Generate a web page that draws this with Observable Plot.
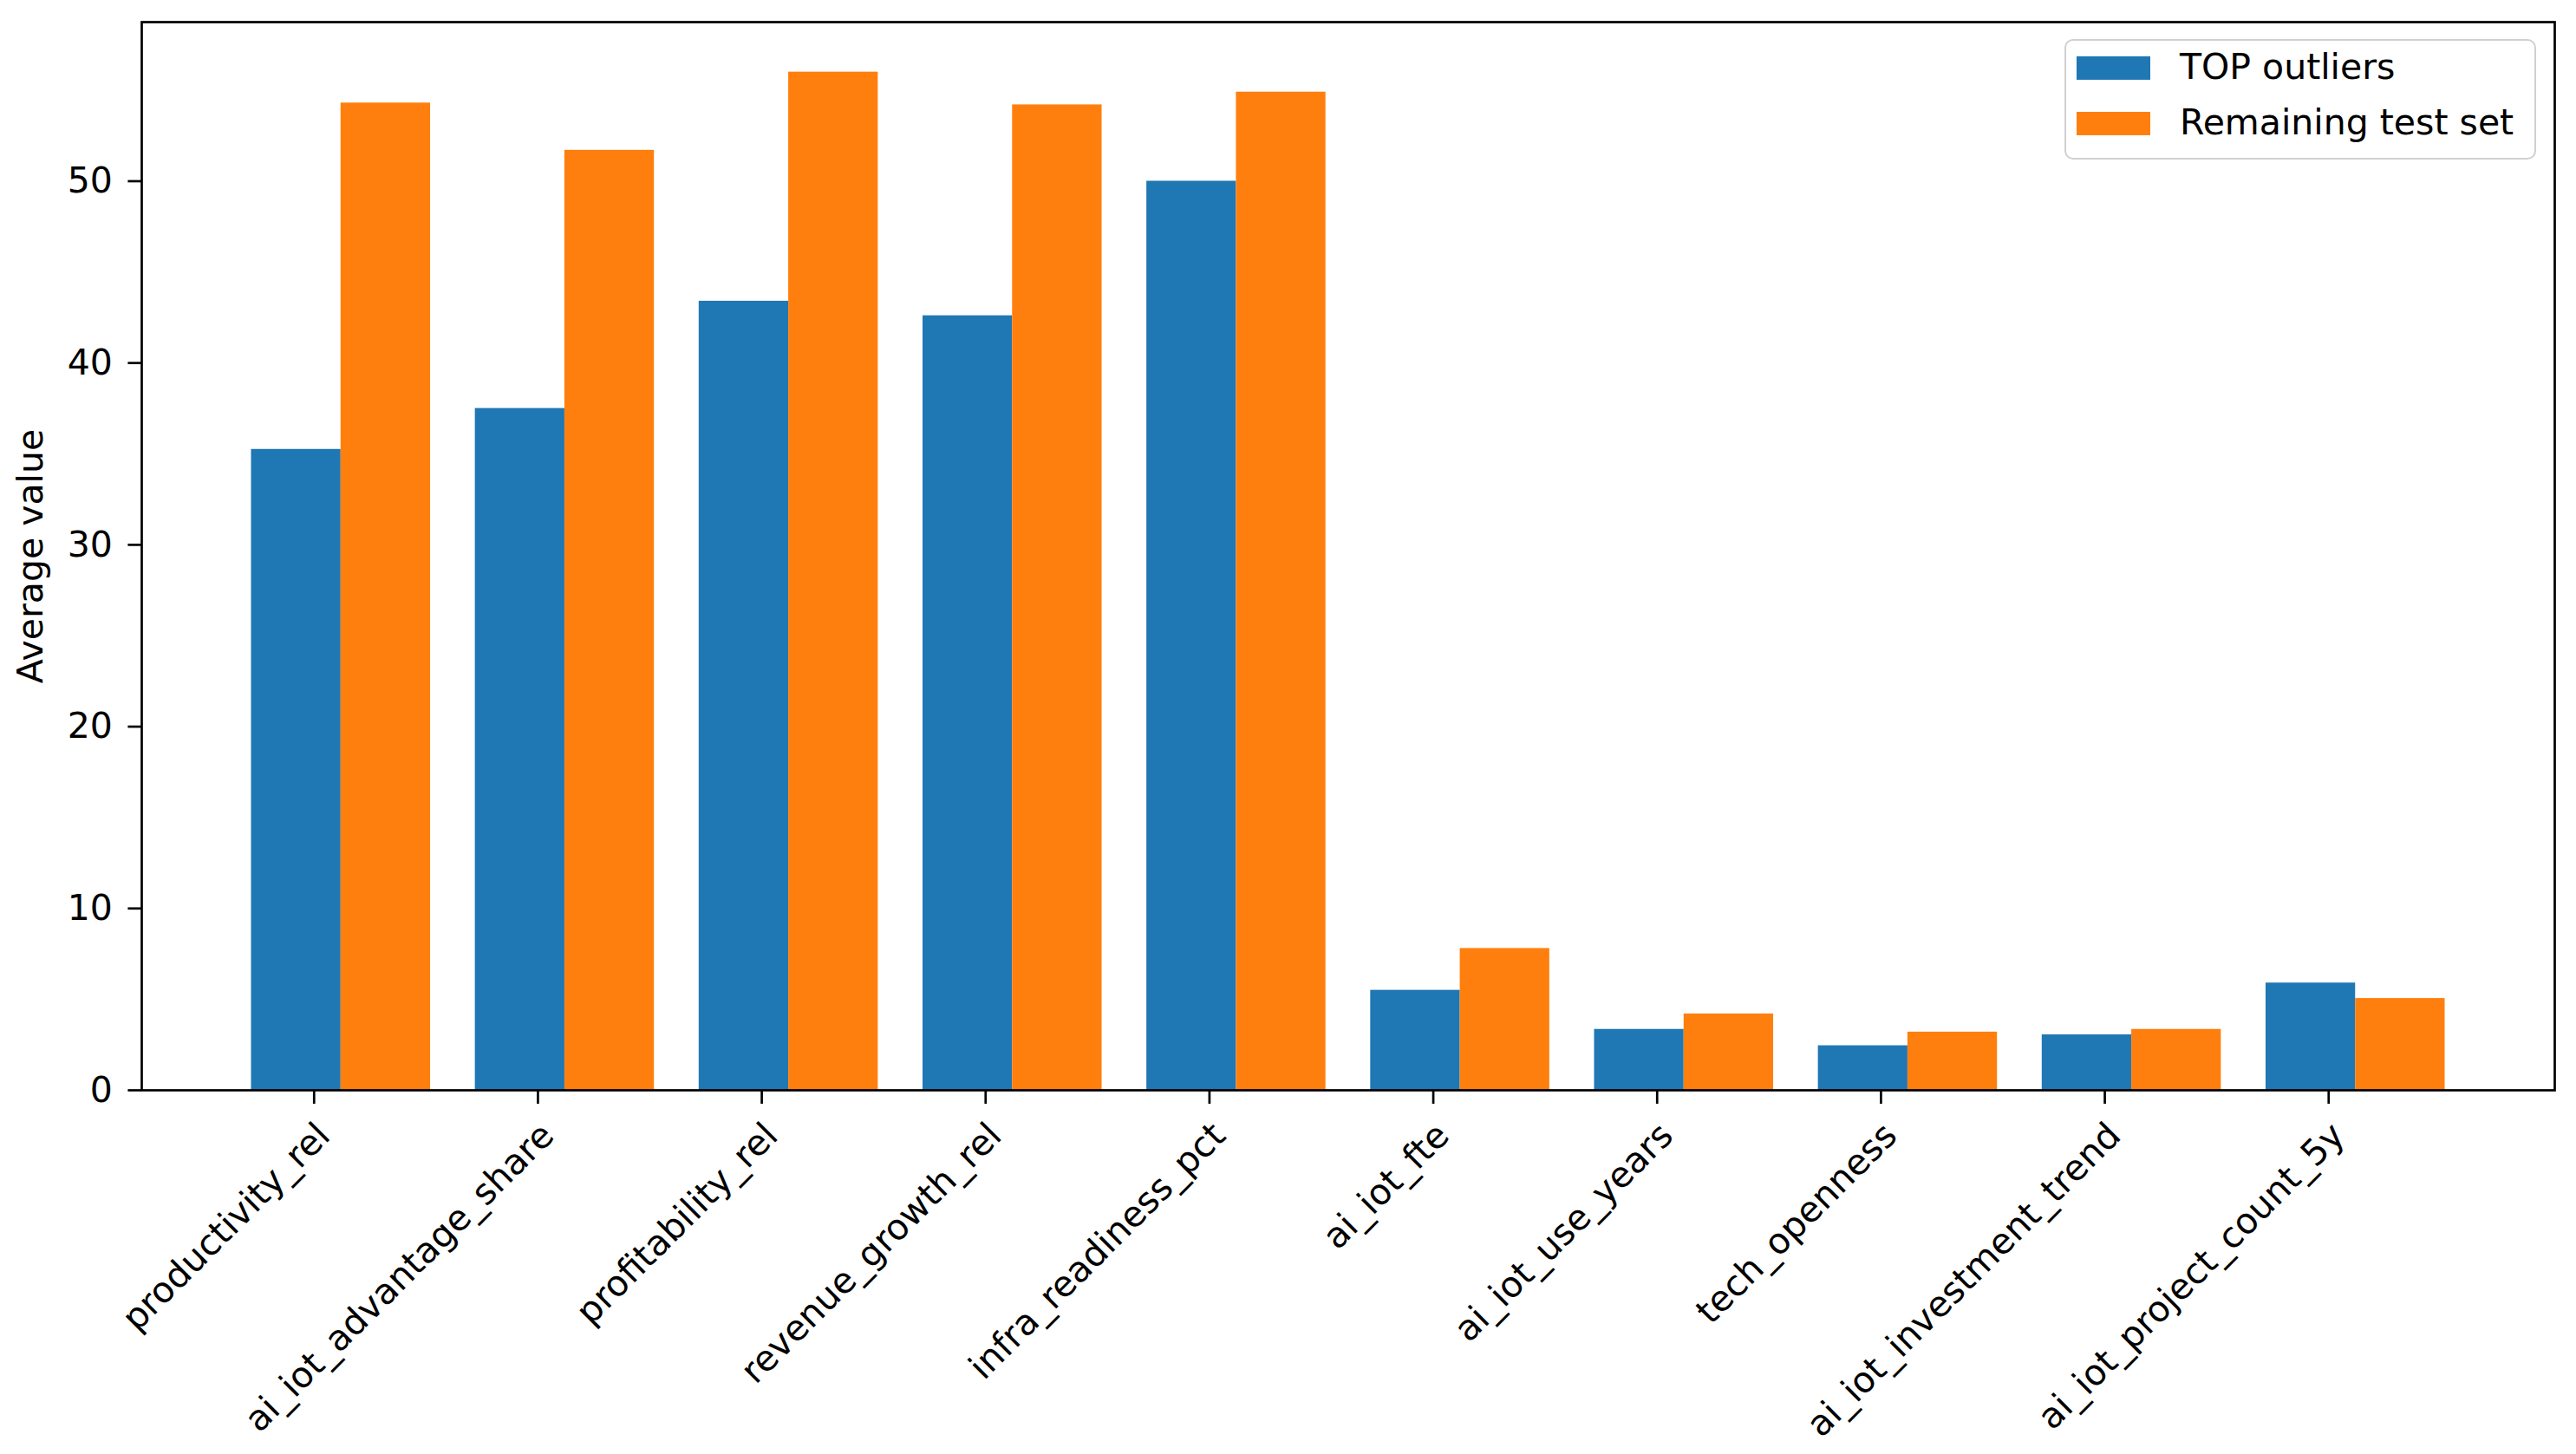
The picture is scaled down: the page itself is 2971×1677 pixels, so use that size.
<!DOCTYPE html>
<html>
<head>
<meta charset="utf-8">
<script src="https://cdn.jsdelivr.net/npm/d3@7"></script>
<script src="https://cdn.jsdelivr.net/npm/@observablehq/plot@0.6"></script>
<style>
  html, body { margin: 0; padding: 0; background: #fff; }
  #wrap { position: relative; width: 2971px; height: 1677px; font-family: "DejaVu Sans", sans-serif; }
  #legend {
    position: absolute; left: 2381px; top: 45px; width: 544px; height: 139px;
    box-sizing: border-box; border: 2.5px solid #d0d0d0; border-radius: 10px; background: rgba(255,255,255,0.8);
    font-size: 41px; color: #000;
  }
  .sw { position: absolute; width: 85px; height: 27px; }
  .lab { position: absolute; line-height: 1; white-space: nowrap; }
</style>
</head>
<body>
<div id="wrap"></div>
<script>
const categories = ["productivity_rel", "ai_iot_advantage_share", "profitability_rel", "revenue_growth_rel", "infra_readiness_pct", "ai_iot_fte", "ai_iot_use_years", "tech_openness", "ai_iot_investment_trend", "ai_iot_project_count_5y"];
const topOutliers = [35.25, 37.5, 43.4, 42.6, 50.0, 5.5, 3.35, 2.45, 3.05, 5.9];
const remainingTestSet = [54.3, 51.7, 56.0, 54.2, 54.9, 7.8, 4.2, 3.2, 3.35, 5.05];
const seriesNames = ["TOP outliers", "Remaining test set"];
const colors = ["#1f77b4", "#ff7f0e"];
const yTicks = [0, 10, 20, 30, 40, 50];

const rows = [];
categories.forEach((c, i) => {
  rows.push({i, series: seriesNames[0], v: topOutliers[i], off: -0.4});
  rows.push({i, series: seriesNames[1], v: remainingTestSet[i], off: 0});
});

const chart = Plot.plot({
  width: 2971,
  height: 1677,
  marginLeft: 163,
  marginRight: 25,
  marginTop: 25,
  marginBottom: 420,
  style: {fontFamily: "DejaVu Sans", fontSize: "41px", color: "#000", background: "#fff"},
  x: {domain: [-0.89, 9.89]},
  y: {domain: [0, 58.75]},
  color: {domain: seriesNames, range: colors},
  marks: [
    Plot.rect(rows, {x1: d => d.i + d.off, x2: d => d.i + d.off + 0.4, y1: 0, y2: "v", fill: "series", inset: 0}),
    Plot.axisY({ticks: yTicks, tickSize: 15.6, tickPadding: 18, strokeWidth: 2.7, label: "Average value", labelAnchor: "center", labelArrow: "none", labelOffset: 144}),
    Plot.axisX({ticks: d3.range(categories.length), tickFormat: i => categories[i], tickSize: 16, tickPadding: 18, strokeWidth: 2.7, tickRotate: -45, textAnchor: "end", lineAnchor: "top", dx: -31, label: null}),
    Plot.frame({stroke: "#000", strokeWidth: 2.7})
  ]
});
const wrap = document.getElementById("wrap");
wrap.appendChild(chart);

const legend = document.createElement("div");
legend.id = "legend";
seriesNames.forEach((name, k) => {
  const sw = document.createElement("div");
  sw.className = "sw";
  sw.style.background = colors[k];
  sw.style.left = "12px";
  sw.style.top = (18 + k * 63.5) + "px";
  legend.appendChild(sw);
  const lab = document.createElement("div");
  lab.className = "lab";
  lab.textContent = name;
  lab.style.left = "131px";
  lab.style.top = (10 + k * 63.5) + "px";
  legend.appendChild(lab);
});
wrap.appendChild(legend);
</script>
</body>
</html>
